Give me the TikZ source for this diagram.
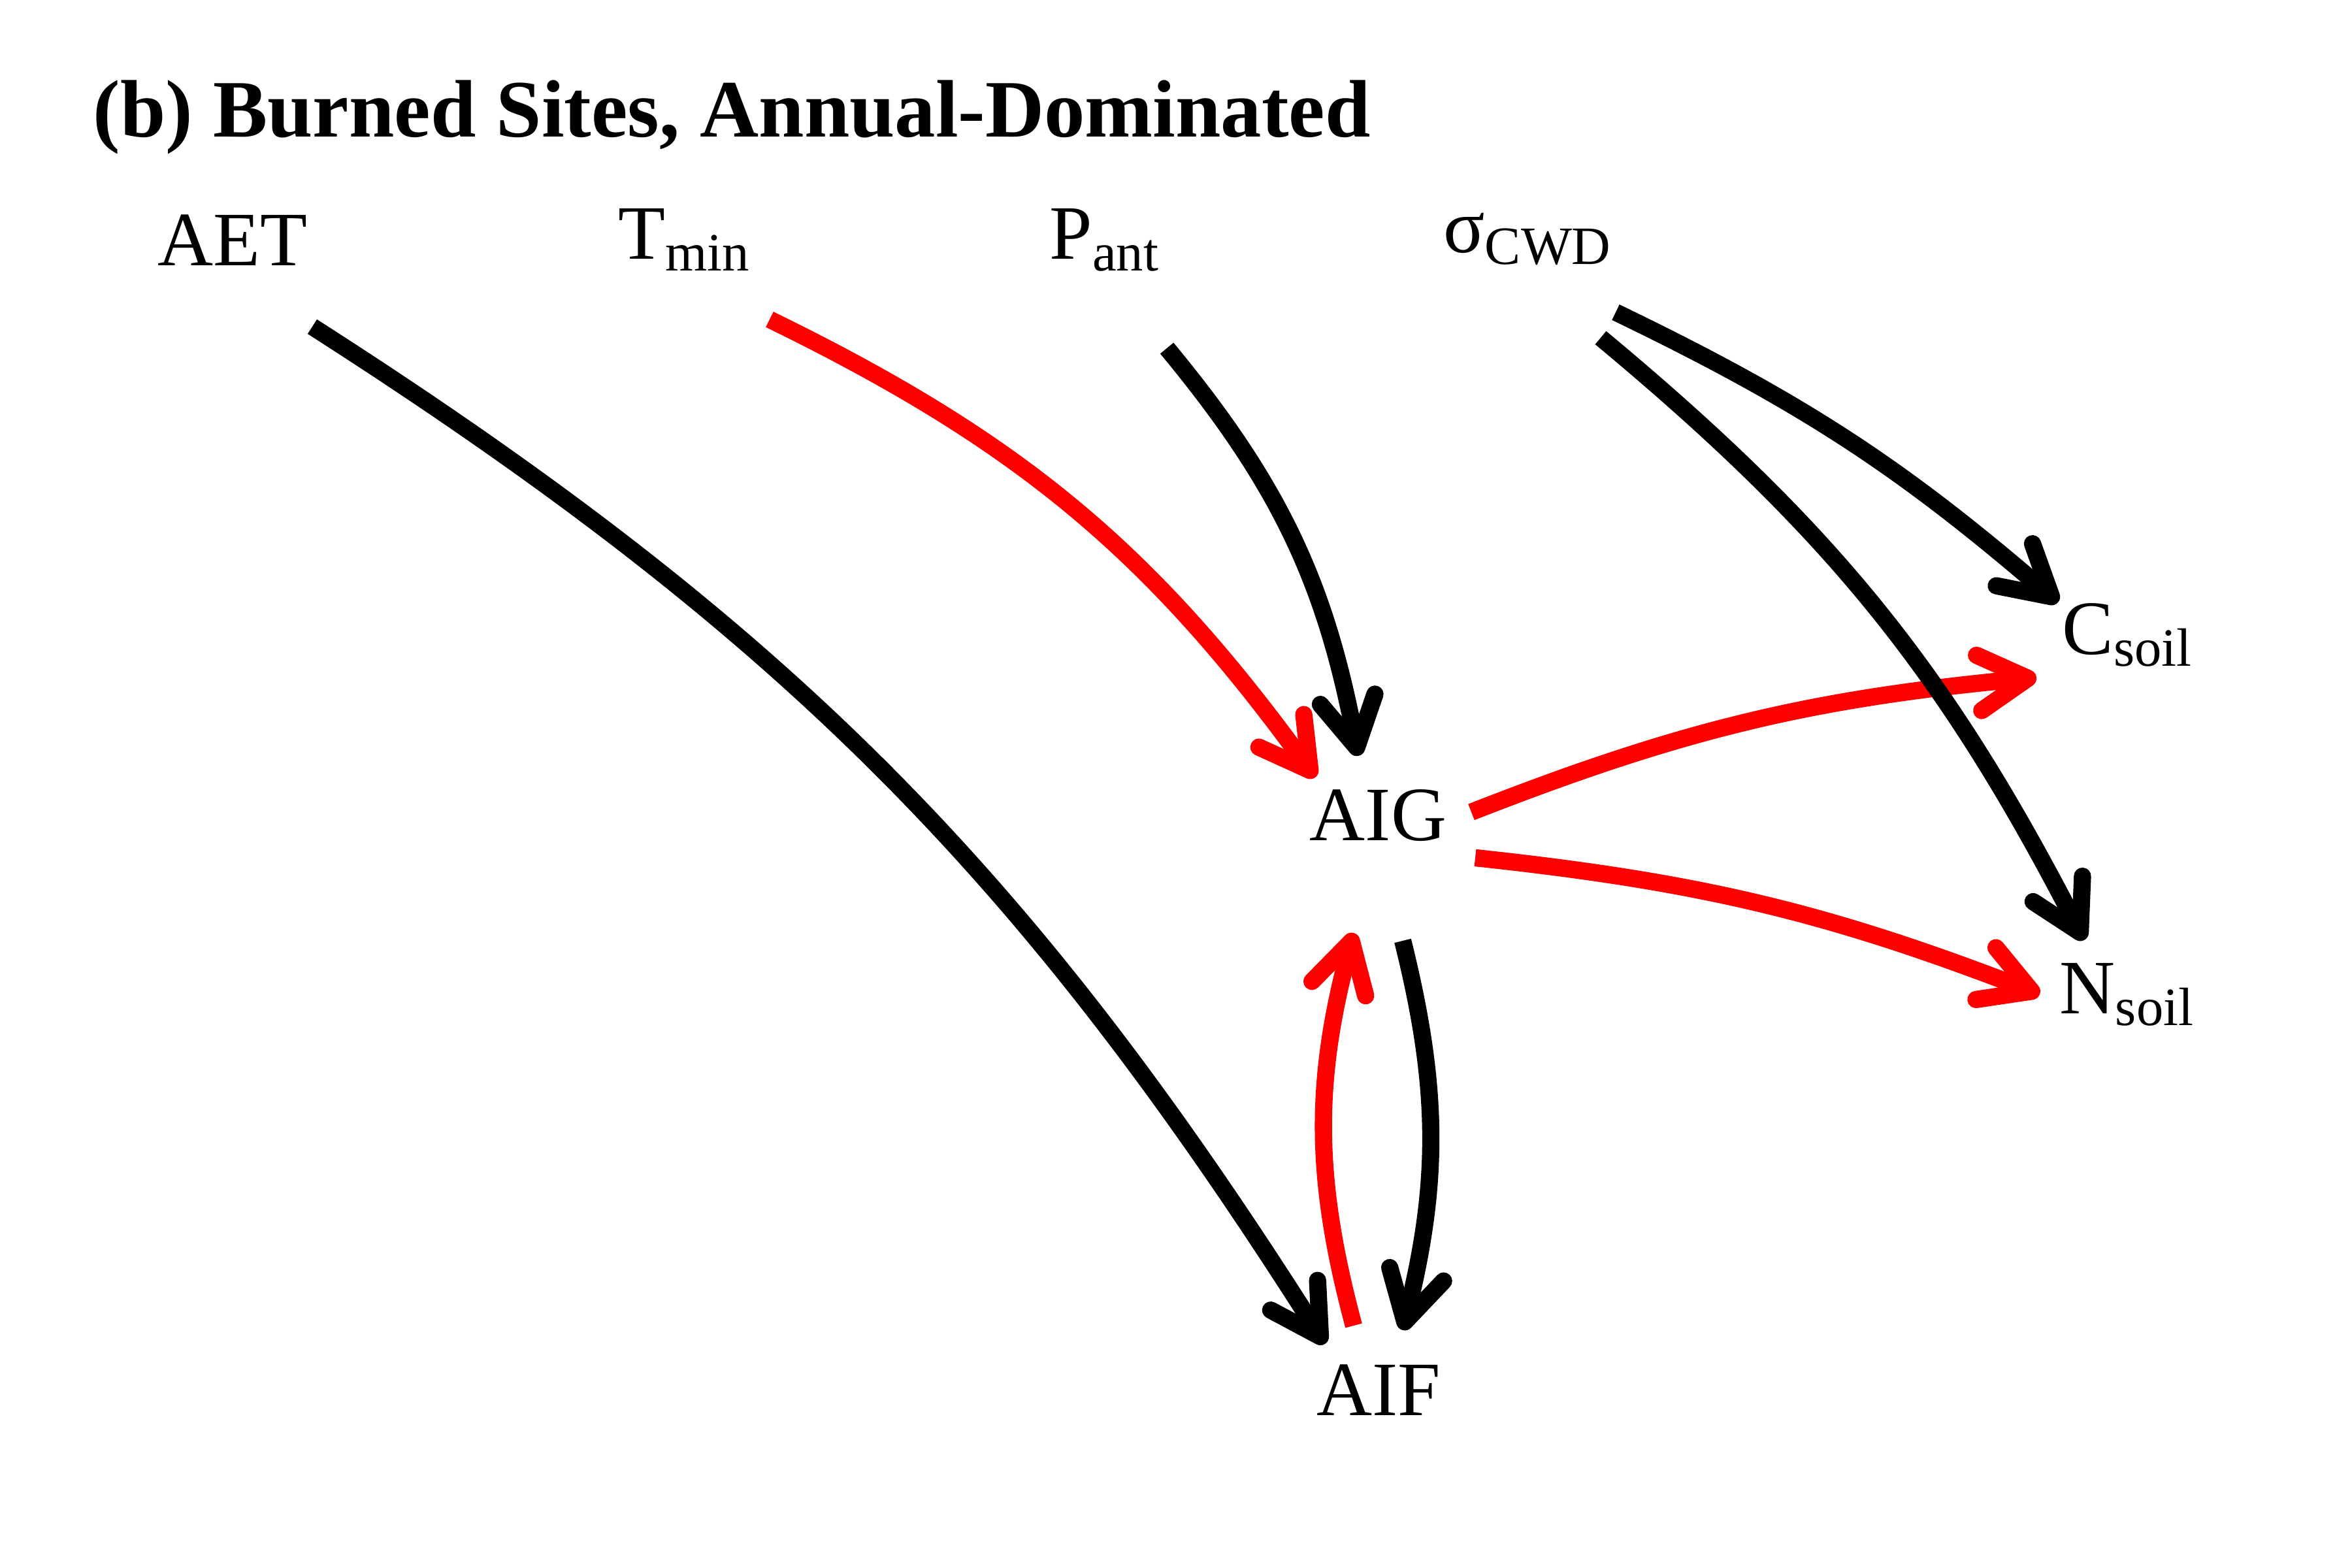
\documentclass[tikz,border=0pt]{standalone}
\usepackage{fontspec}
\setmainfont{Liberation Serif}
\usetikzlibrary{arrows.meta}
\newcommand{\lsub}[2]{#1\raisebox{-5.1pt}{\fontsize{23.5}{26}\selectfont #2}}

\begin{document}
\begin{tikzpicture}[
        every node/.style={anchor=base, inner sep=0pt, font=\fontsize{33.5}{40}\selectfont},
        posarrow/.style={draw=black, line width=7.5pt, -{Straight Barb[length=7.5mm,width=8.5mm,round]}},
        negarrow/.style={posarrow, draw=red},
    ]
    \useasboundingbox (0,0) rectangle (36,24);
    \node[anchor=base west, font=\fontsize{35.5}{40}\selectfont\bfseries](title) at (1.42,21.90){(b) Burned Sites, Annual-Dominated};
    \node[](aet) at (3.555,19.93){AET};
    \node[](tmin) at (10.47,20.03){\lsub{T}{min}};
    \node[](pant) at (16.90,20.03){\lsub{P}{ant}};
    \node[](scwd) at (23.375,20.13){\lsub{σ}{CWD}};
    \node[](aig) at (21.095,11.13){AIG};
    \node[](aif) at (21.10,2.33){AIF};
    \node[](csoil) at (32.555,13.98){\lsub{C}{soil}};
    \node[](nsoil) at (32.55,8.48){\lsub{N}{soil}};

    % negative paths
    \draw[negarrow] ([shift={(1.31,-0.92)}]tmin.base) to[bend left=14] ([shift={(-0.965,0.97)}]aig.base);
    \draw[negarrow] ([shift={(1.425,0.44)}]aig.base) to[bend left=8] ([shift={(-1.385,-0.35)}]csoil.base);
    \draw[negarrow] ([shift={(1.485,-0.26)}]aig.base) to[bend left=7.5] ([shift={(-1.33,0.30)}]nsoil.base);
    \draw[negarrow] ([shift={(-0.38,1.38)}]aif.base) to[bend left=15] ([shift={(-0.375,-1.41)}]aig.base);
    % positive paths
    \draw[posarrow] ([shift={(1.225,-0.93)}]aet.base) to[bend left=12.5] ([shift={(-0.82,1.10)}]aif.base);
    \draw[posarrow] ([shift={(0.96,-1.36)}]pant.base) to[bend left=14.5] ([shift={(-0.305,1.30)}]aig.base);
    \draw[posarrow] ([shift={(1.355,-0.91)}]scwd.base) to[bend left=7.5] ([shift={(-1.055,0.80)}]csoil.base);
    \draw[posarrow] ([shift={(1.125,-1.30)}]scwd.base) to[bend left=11.5] ([shift={(-0.65,1.13)}]nsoil.base);
    \draw[posarrow] ([shift={(0.375,-1.53)}]aig.base) to[bend left=14] ([shift={(0.37,1.31)}]aif.base);
\end{tikzpicture}
\end{document}
